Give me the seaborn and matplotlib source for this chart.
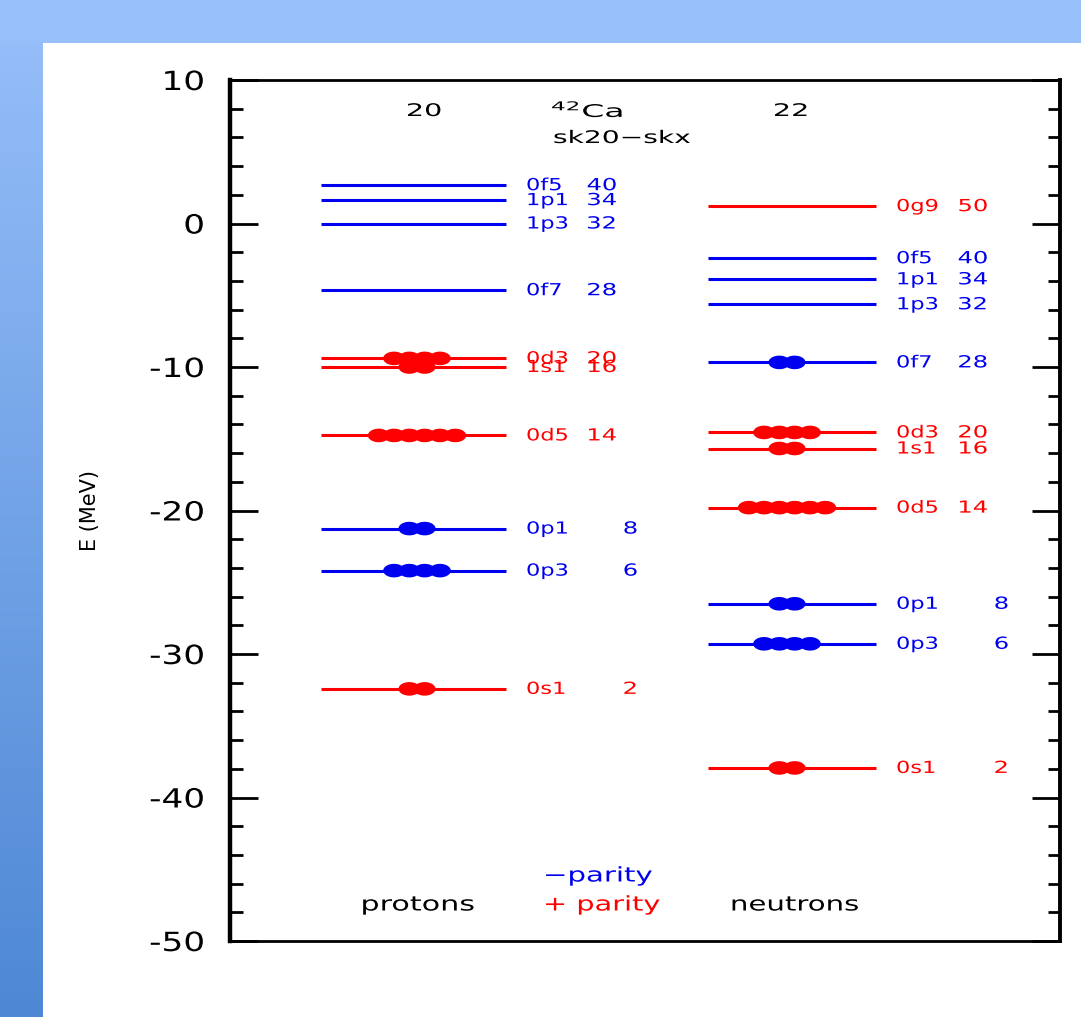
import numpy as np
import pandas as pd
import matplotlib
matplotlib.use("Agg")
import matplotlib.pyplot as plt
from matplotlib.path import Path
from matplotlib.patheffects import AbstractPathEffect
from matplotlib.transforms import Affine2D
import seaborn as sns

# ---------------- data ----------------
proton_orbits = ["0s1", "0p3", "0p1", "0d5", "1s1", "0d3", "0f7", "1p3", "1p1", "0f5"]
proton_energy = [-32.43, -24.19, -21.26, -14.77, -10.0, -9.4, -4.65, 0.0, 1.63, 2.67]
proton_count = [2, 6, 8, 14, 16, 20, 28, 32, 34, 40]
proton_occ = [2, 4, 2, 6, 2, 4, 0, 0, 0, 0]

neutron_orbits = ["0s1", "0p3", "0p1", "0d5", "1s1", "0d3", "0f7", "1p3", "1p1", "0f5", "0g9"]
neutron_energy = [-37.94, -29.29, -26.5, -19.8, -15.68, -14.56, -9.68, -5.63, -3.89, -2.42, 1.21]
neutron_count = [2, 6, 8, 14, 16, 20, 28, 32, 34, 40, 50]
neutron_occ = [2, 4, 2, 6, 2, 4, 2, 0, 0, 0, 0]

y_ticks = [10, 0, -10, -20, -30, -40, -50]
y_tick_labels = ["10", "0", "-10", "-20", "-30", "-40", "-50"]

RED = "#ff0000"
BLUE = "#0000f0"


def parity(orb):
    return "+" if orb[1] in "sdg" else "-"


pal = {"+": RED, "-": BLUE}


class HStretch(AbstractPathEffect):
    """Stretch a text horizontally about its anchor point."""

    def __init__(self, artist, sx):
        super().__init__()
        self.artist = artist
        self.sx = sx

    def draw_path(self, renderer, gc, tpath, affine, rgbFace=None):
        x0, _ = self.artist.get_transform().transform(self.artist.get_unitless_position())
        aff = affine + Affine2D().translate(-x0, 0).scale(self.sx, 1.0).translate(x0, 0)
        renderer.draw_path(gc, tpath, aff, rgbFace)


def stext(ax, x, y, s, sx=1.45, **kw):
    t = ax.text(x, y, s, **kw)
    t.set_path_effects([HStretch(t, sx)])
    return t


# ---------------- figure ----------------
sns.set_style("ticks")
plt.rcParams["font.family"] = ["DejaVu Sans"]
for k in ["text.color", "axes.labelcolor", "xtick.color", "ytick.color", "axes.edgecolor"]:
    plt.rcParams[k] = "black"

W, H = 1081, 1017
fig = plt.figure(figsize=(W / 100, H / 100), dpi=100, facecolor="white")

# background frame: top band + left gradient band
top_c = np.array([151, 191, 250]) / 255
bot_c = np.array([78, 136, 212]) / 255
bg = fig.add_axes([0, 0, 43 / W, 1])
grad = np.linspace(0, 1, 256)[:, None]
img = top_c[None, None, :] * (1 - grad[..., None]) + bot_c[None, None, :] * grad[..., None]
bg.imshow(img, aspect="auto", extent=[0, 1, 0, 1], origin="upper")
bg.axis("off")
fig.patches.append(plt.Rectangle((0, 1 - 43 / H), 1, 43 / H, transform=fig.transFigure,
                                 facecolor=top_c, edgecolor="none", zorder=0))

ax = fig.add_axes([230 / W, 1 - 941 / H, 830 / W, 861 / H])
ax.set_xlim(0, 10)
ax.set_ylim(-50, 10)

PX = 83.0  # pixels per x unit
p_x0, p_x1, p_c = (321 - 230) / PX, (506 - 230) / PX, (417 - 230) / PX
n_x0, n_x1, n_c = (708 - 230) / PX, (876 - 230) / PX, (787 - 230) / PX
dot_step = 15.3 / PX

# level lines
for orbs, ens, x0, x1 in [(proton_orbits, proton_energy, p_x0, p_x1),
                          (neutron_orbits, neutron_energy, n_x0, n_x1)]:
    ax.hlines(ens, x0, x1, colors=[pal[parity(o)] for o in orbs], lw=2.2, zorder=2)

# occupation dots
rows = []
for orbs, ens, occ, xc in [(proton_orbits, proton_energy, proton_occ, p_c),
                           (neutron_orbits, neutron_energy, neutron_occ, n_c)]:
    for o, e, n in zip(orbs, ens, occ):
        for i in range(n):
            rows.append({"x": xc + (i - (n - 1) / 2) * dot_step, "E": e, "parity": parity(o)})
dots = pd.DataFrame(rows)
t = np.linspace(0, 2 * np.pi, 64)
ellipse = Path(np.column_stack([1.6 * np.cos(t), np.sin(t)]), closed=True)
sns.scatterplot(data=dots, x="x", y="E", hue="parity", palette=pal, marker=ellipse,
                s=245, linewidth=0, legend=False, ax=ax, zorder=3)

# level labels
fs_lab = 12
for orbs, ens, cnts, xn, xr in [(proton_orbits, proton_energy, proton_count, (526 - 230) / PX, (617 - 230) / PX),
                                (neutron_orbits, neutron_energy, neutron_count, (896 - 230) / PX, (988 - 230) / PX)]:
    for o, e, c in zip(orbs, ens, cnts):
        col = pal[parity(o)]
        stext(ax, xn, e, o, sx=1.35, color=col, fontsize=fs_lab, ha="left", va="center")
        xx = xr if c >= 10 else xr + 21 / PX
        stext(ax, xx, e, str(c), sx=1.45, color=col, fontsize=fs_lab, ha="right", va="center")


# header / footer texts
def ypix(p):
    return 10 - (p - 80) / (861 / 60)


stext(ax, (424 - 230) / PX, ypix(111), "20", sx=1.65, fontsize=12.5, ha="center", va="center")
stext(ax, (791 - 230) / PX, ypix(111), "22", sx=1.65, fontsize=12.5, ha="center", va="center")
stext(ax, (588 - 230) / PX, ypix(111), r"$^{42}$Ca", sx=1.9, fontsize=12.5, ha="center", va="center")
stext(ax, (622 - 230) / PX, ypix(138), "sk20\u2212skx", sx=1.62, fontsize=12.5, ha="center", va="center")
stext(ax, (418 - 230) / PX, ypix(905), "protons", sx=1.5, fontsize=14.5, ha="center", va="center")
stext(ax, (795 - 230) / PX, ypix(905), "neutrons", sx=1.45, fontsize=14.5, ha="center", va="center")
stext(ax, (543 - 230) / PX, ypix(876), "\u2212parity", sx=1.45, fontsize=14.5, color=BLUE, ha="left", va="center")
stext(ax, (543 - 230) / PX, ypix(905), "+ parity", sx=1.43, fontsize=14.5, color=RED, ha="left", va="center")

# axes styling
ax.set_yticks(y_ticks)
ax.set_yticklabels(y_tick_labels, fontsize=19)
ax.set_yticks(np.arange(-48, 10, 2), minor=True)
ax.set_xticks([])
ax.tick_params(axis="y", which="both", direction="in", left=True, right=True,
               labelright=False, width=2, color="black", labelcolor="black", pad=18)
ax.tick_params(axis="y", which="major", length=20)
ax.tick_params(axis="y", which="minor", length=9)
for lab in ax.get_yticklabels():
    lab.set_path_effects([HStretch(lab, 1.3)])
for side, lw in [("left", 3.2), ("right", 2.8), ("top", 2.0), ("bottom", 2.0)]:
    ax.spines[side].set_visible(True)
    ax.spines[side].set_linewidth(lw)
    ax.spines[side].set_color("black")
ax.set_xlabel("")
ax.set_ylabel("E (MeV)", fontsize=15)
ax.yaxis.set_label_coords(-0.157, 0.50)

fig.savefig("out.png", dpi=100, facecolor="white")
